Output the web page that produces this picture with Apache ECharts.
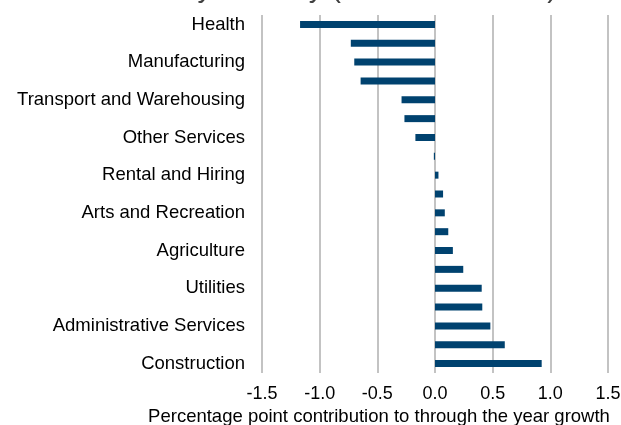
<!DOCTYPE html>
<html>
<head>
<meta charset="utf-8">
<script src="https://cdn.jsdelivr.net/npm/echarts@6/dist/echarts.min.js"></script>
<style>
html,body{margin:0;padding:0;background:#fff;}
#chart{width:621px;height:425px;}
</style>
</head>
<body>
<div id="chart"></div>
<script>
// Categories, top to bottom (every other label shown, as in the reference)
var categories = [
  'Health', 'Education', 'Manufacturing', 'Retail Trade',
  'Transport and Warehousing', 'Public Administration', 'Other Services', 'Wholesale Trade',
  'Rental and Hiring', 'Information Media', 'Arts and Recreation', 'Financial Services',
  'Agriculture', 'Accommodation and Food', 'Utilities', 'Mining',
  'Administrative Services', 'Professional Services', 'Construction'
];
var values = [
  -1.17, -0.73, -0.70, -0.645,
  -0.29, -0.265, -0.17, -0.01,
  0.03, 0.07, 0.085, 0.115,
  0.155, 0.245, 0.405, 0.41,
  0.48, 0.605, 0.925
];
var xTicks = [-1.5, -1.0, -0.5, 0.0, 0.5, 1.0, 1.5];
var titleText = 'Contribution by Industry (November 2013)';
var xName = 'Percentage point contribution to through the year growth';

var chart = echarts.init(document.getElementById('chart'));
chart.setOption({
  backgroundColor: '#ffffff',
  animation: false,
  title: {
    text: titleText,
    left: 12,
    top: -31,
    textStyle: {fontFamily: 'Liberation Sans, Arial', fontSize: 29, fontWeight: 'normal', color: '#404040'}
  },
  grid: {left: 262, right: 13, top: 15, bottom: 52, containLabel: false, outerBoundsMode: 'none'},
  xAxis: {
    type: 'value',
    min: xTicks[0],
    max: xTicks[xTicks.length - 1],
    interval: 0.5,
    axisLine: {show: false},
    axisTick: {show: false},
    splitLine: {show: true, lineStyle: {color: '#c3c3c3', width: 2}},
    axisLabel: {
      margin: 12,
      fontFamily: 'Liberation Sans, Arial', fontSize: 18, color: '#000',
      formatter: function (v) { return v.toFixed(1); }
    },
    name: xName,
    nameLocation: 'middle',
    nameGap: 29,
    nameTextStyle: {fontFamily: 'Liberation Sans, Arial', fontSize: 18.5, color: '#000', padding: [0, 112, 0, 0]}
  },
  yAxis: {
    type: 'category',
    data: categories,
    inverse: true,
    axisLine: {show: false},
    axisTick: {show: false},
    splitLine: {show: false},
    axisLabel: {
      interval: 1,
      margin: 17,
      fontFamily: 'Liberation Sans, Arial', fontSize: 18.5, color: '#000'
    }
  },
  series: [{
    type: 'bar',
    data: values,
    barWidth: 7,
    itemStyle: {color: '#00426f'}
  }]
});
</script>
</body>
</html>
